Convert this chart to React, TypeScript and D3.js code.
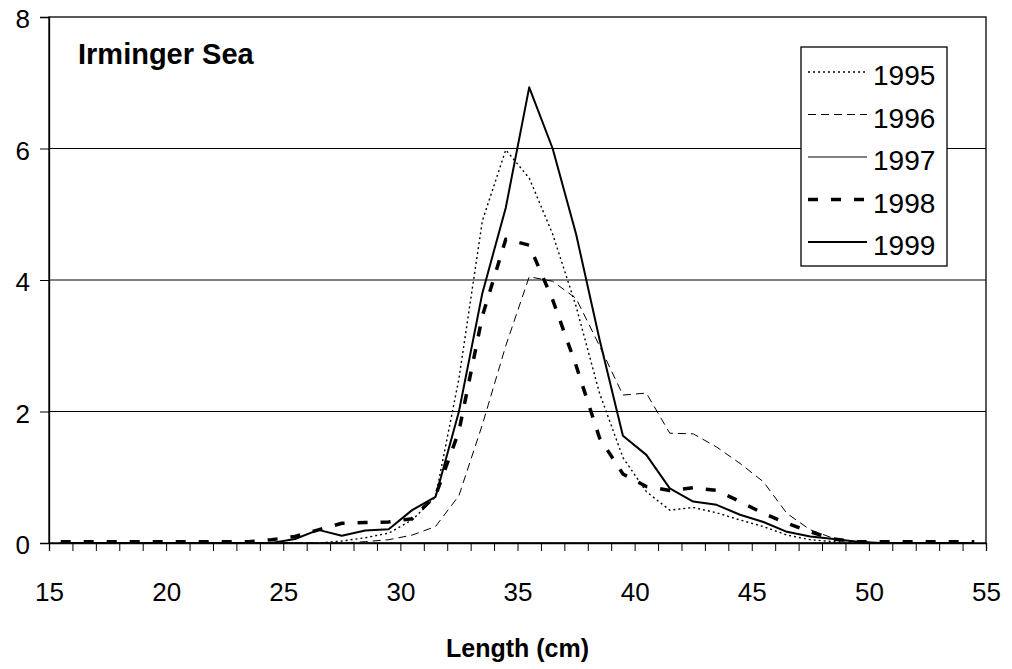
import React, { useRef, useEffect } from 'react';
import * as d3 from 'd3';

// length classes (cm), points sit at the middle of each 1 cm class
const lengthBins = [
  15.5, 16.5, 17.5, 18.5, 19.5, 20.5, 21.5, 22.5, 23.5, 24.5,
  25.5, 26.5, 27.5, 28.5, 29.5, 30.5, 31.5, 32.5, 33.5, 34.5,
  35.5, 36.5, 37.5, 38.5, 39.5, 40.5, 41.5, 42.5, 43.5, 44.5,
  45.5, 46.5, 47.5, 48.5, 49.5, 50.5, 51.5, 52.5, 53.5, 54.5,
];

const y1995 = [
  0, 0, 0, 0, 0, 0, 0, 0, 0, 0,
  0, 0, 0.03, 0.08, 0.15, 0.35, 0.7, 2.5, 4.9, 5.98,
  5.55, 4.7, 3.6, 2.28, 1.3, 0.78, 0.5, 0.54, 0.46, 0.35,
  0.25, 0.12, 0.05, 0.02, 0, 0, 0, 0, 0, 0,
];
const y1996 = [
  0, 0, 0, 0, 0, 0, 0, 0, 0, 0,
  0, 0, 0, 0.02, 0.05, 0.12, 0.25, 0.72, 1.8, 3.0,
  4.05, 3.98, 3.72, 3.0, 2.25, 2.28, 1.67, 1.66, 1.46, 1.21,
  0.93, 0.45, 0.2, 0.07, 0.02, 0, 0, 0, 0, 0,
];
const y1997 = [
  0, 0, 0, 0, 0, 0, 0, 0, 0, 0,
  0, 0, 0, 0, 0, 0, 0, 0, 0, 0,
  0, 0, 0, 0, 0, 0, 0, 0, 0, 0,
  0, 0, 0, 0, 0, 0, 0, 0, 0, 0,
];
const y1998 = [
  0.02, 0.02, 0.02, 0.02, 0.02, 0.02, 0.02, 0.02, 0.02, 0.05,
  0.1, 0.2, 0.3, 0.31, 0.32, 0.37, 0.72, 1.7, 3.45, 4.62,
  4.53, 3.7, 2.7, 1.6, 1.05, 0.86, 0.8, 0.84, 0.8, 0.63,
  0.45, 0.3, 0.17, 0.06, 0.02, 0.02, 0.02, 0.02, 0.02, 0.02,
];
const y1999 = [
  0, 0, 0, 0, 0, 0, 0, 0, 0, 0,
  0.06, 0.2, 0.11, 0.19, 0.21, 0.5, 0.7, 2.0, 3.8, 5.1,
  6.93, 6.0, 4.7, 3.1, 1.63, 1.34, 0.83, 0.63, 0.58, 0.43,
  0.32, 0.17, 0.1, 0.06, 0.02, 0, 0, 0, 0, 0,
];

const seriesNames = ['1995', '1996', '1997', '1998', '1999'];
const xTicks = [15, 20, 25, 30, 35, 40, 45, 50, 55];
const yTicks = [0, 2, 4, 6, 8];

const FONT = '"Liberation Sans", Arial, sans-serif';

export default function App() {
  const svgRef = useRef<SVGSVGElement>(null);

  useEffect(() => {
    const W = 1012;
    const H = 669;
    const margin = { top: 17, right: 26, bottom: 126, left: 49 };

    const svg = d3.select(svgRef.current);
    svg.selectAll('*').remove();

    const x = d3.scaleLinear().domain([15, 55]).range([margin.left, W - margin.right]);
    const y = d3.scaleLinear().domain([0, 8]).range([H - margin.bottom, margin.top]);

    // линии сетки
    svg.append('g')
      .selectAll('line')
      .data(yTicks.filter(t => t > 0 && t < 8))
      .join('line')
        .attr('x1', x(15))
        .attr('x2', x(55))
        .attr('y1', d => y(d))
        .attr('y2', d => y(d))
        .attr('stroke', '#000')
        .attr('stroke-width', 1);

    // рамка
    svg.append('rect')
      .attr('x', x(15))
      .attr('y', y(8))
      .attr('width', x(55) - x(15))
      .attr('height', y(0) - y(8))
      .attr('fill', 'none')
      .attr('stroke', '#000')
      .attr('stroke-width', 1.3);

    // ось X: мелкие штрихи каждый см, подписи каждые 5
    const minor = d3.range(15, 56);
    const gx = svg.append('g')
      .attr('transform', `translate(0,${y(0)})`)
      .call(
        d3.axisBottom(x)
          .tickValues(minor)
          .tickSize(8)
          .tickPadding(32)
          .tickFormat(d => (xTicks.includes(+d) ? String(d) : ''))
      );
    gx.select('.domain').attr('stroke-width', 1.3);
    gx.selectAll('text')
      .style('font-family', FONT)
      .style('font-size', '26px')
      .attr('fill', '#000');

    // ось Y
    const gy = svg.append('g')
      .attr('transform', `translate(${x(15)},0)`)
      .call(d3.axisLeft(y).tickValues(yTicks).tickSize(9).tickPadding(10).tickFormat(d3.format('d')));
    gy.select('.domain').attr('stroke-width', 1.3);
    gy.selectAll('text')
      .style('font-family', FONT)
      .style('font-size', '26px')
      .attr('dy', '0.42em')
      .attr('fill', '#000');

    // серии
    const styles = [
      { values: y1995, width: 1.4, dash: '2 3' },
      { values: y1996, width: 1, dash: '8 5' },
      { values: y1997, width: 1, dash: null },
      { values: y1998, width: 3.5, dash: '10 13' },
      { values: y1999, width: 2, dash: null },
    ];

    const line = d3.line<number>()
      .x((_, i) => x(lengthBins[i]))
      .y(d => y(d));

    svg.append('g')
      .selectAll('path')
      .data(styles)
      .join('path')
        .attr('d', d => line(d.values))
        .attr('fill', 'none')
        .attr('stroke', '#000')
        .attr('stroke-width', d => d.width)
        .attr('stroke-dasharray', d => d.dash)
        .attr('stroke-linejoin', 'round');

    // подпись района
    svg.append('text')
      .attr('x', 78)
      .attr('y', 64)
      .style('font-family', FONT)
      .style('font-size', '29px')
      .style('font-weight', 'bold')
      .text('Irminger Sea');

    // название оси
    svg.append('text')
      .attr('x', (x(15) + x(55)) / 2)
      .attr('y', 657)
      .attr('text-anchor', 'middle')
      .style('font-family', FONT)
      .style('font-size', '25px')
      .style('font-weight', 'bold')
      .text('Length (cm)');

    // легенда
    const leg = svg.append('g');
    leg.append('rect')
      .attr('x', 801)
      .attr('y', 47)
      .attr('width', 146)
      .attr('height', 219)
      .attr('fill', '#fff')
      .attr('stroke', '#000')
      .attr('stroke-width', 1.3);

    const rowY = d3.scaleLinear().domain([0, 4]).range([72, 242]);
    const rows = leg.selectAll('g.row')
      .data(styles)
      .join('g')
        .attr('class', 'row')
        .attr('transform', (_, i) => `translate(0,${rowY(i)})`);
    rows.append('line')
      .attr('x1', 808)
      .attr('x2', 867)
      .attr('stroke', '#000')
      .attr('stroke-width', d => d.width)
      .attr('stroke-dasharray', d => d.dash);
    rows.append('text')
      .attr('x', 873)
      .attr('y', 13)
      .style('font-family', FONT)
      .style('font-size', '28px')
      .text((_, i) => seriesNames[i]);
  }, []);

  return (
    <svg
      ref={svgRef}
      width={1012}
      height={669}
      style={{ position: 'absolute', left: 0, top: 0, background: '#fff' }}
    />
  );
}
